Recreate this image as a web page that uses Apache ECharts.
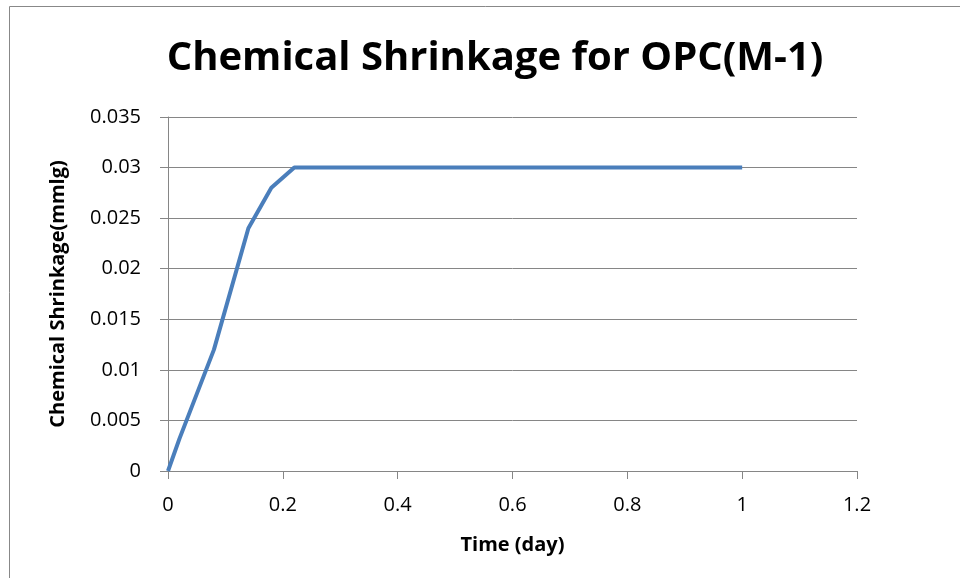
<!DOCTYPE html>
<html>
<head>
<meta charset="utf-8">
<script src="https://cdn.jsdelivr.net/npm/echarts@6/dist/echarts.min.js"></script>
<style>
  html, body { margin: 0; padding: 0; background: #fff; }
  #chart { width: 960px; height: 578px; }
</style>
</head>
<body>
<div id="chart"></div>
<script>
// time in days, shrinkage in mm/g
const timeDays = [0, 0.02, 0.08, 0.14, 0.18, 0.22, 1]
const shrinkage = [0, 0.0032, 0.012, 0.024, 0.028, 0.03, 0.03]

const chart = echarts.init(document.getElementById('chart'))
const axisFont = 'Open Sans'
const option = {
  backgroundColor: '#fff',
  animation: false,
  title: {
    text: 'Chemical Shrinkage for OPC(M-1)',
    left: 490,
    top: 34,
    textAlign: 'center',
    textStyle: { fontFamily: axisFont, fontWeight: 'bold', fontSize: 40, color: '#000' }
  },
  graphic: [{
    type: 'rect',
    shape: { x: 9.5, y: 6.5, width: 1000, height: 1000 },
    style: { fill: 'none', stroke: '#888', lineWidth: 1 }
  }],
  grid: { left: 168, right: 103, top: 117, bottom: 107 },
  xAxis: {
    type: 'value',
    min: 0,
    max: 1.2,
    interval: 0.2,
    name: 'Time (day)',
    nameLocation: 'middle',
    nameGap: 64,
    nameTextStyle: { fontFamily: axisFont, fontWeight: 'bold', fontSize: 20, color: '#000' },
    axisLine: { show: true, lineStyle: { color: '#868686', width: 1 } },
    axisTick: { show: true, inside: false, length: 8, lineStyle: { color: '#868686' } },
    splitLine: { show: false },
    axisLabel: { fontFamily: axisFont, fontSize: 20, color: '#000', margin: 24,
      formatter: v => String(Math.round(v * 10) / 10) }
  },
  yAxis: {
    type: 'value',
    min: 0,
    max: 0.035,
    interval: 0.005,
    name: 'Chemical Shrinkage(mmlg)',
    nameLocation: 'middle',
    nameGap: 100,
    nameTextStyle: { fontFamily: axisFont, fontWeight: 'bold', fontSize: 20, color: '#000' },
    axisLine: { show: true, lineStyle: { color: '#868686', width: 1 } },
    axisTick: { show: true, inside: false, length: 8, lineStyle: { color: '#868686' } },
    splitLine: { show: true, lineStyle: { color: '#868686', width: 1 } },
    axisLabel: { fontFamily: axisFont, fontSize: 20, color: '#000', margin: 27,
      formatter: v => String(Math.round(v * 1000) / 1000) }
  },
  series: [{
    type: 'line',
    data: timeDays.map((t, i) => [t, shrinkage[i]]),
    showSymbol: false,
    lineStyle: { color: '#4a7ebb', width: 4 },
    itemStyle: { color: '#4a7ebb' }
  }]
}
chart.setOption(option)
</script>
</body>
</html>
